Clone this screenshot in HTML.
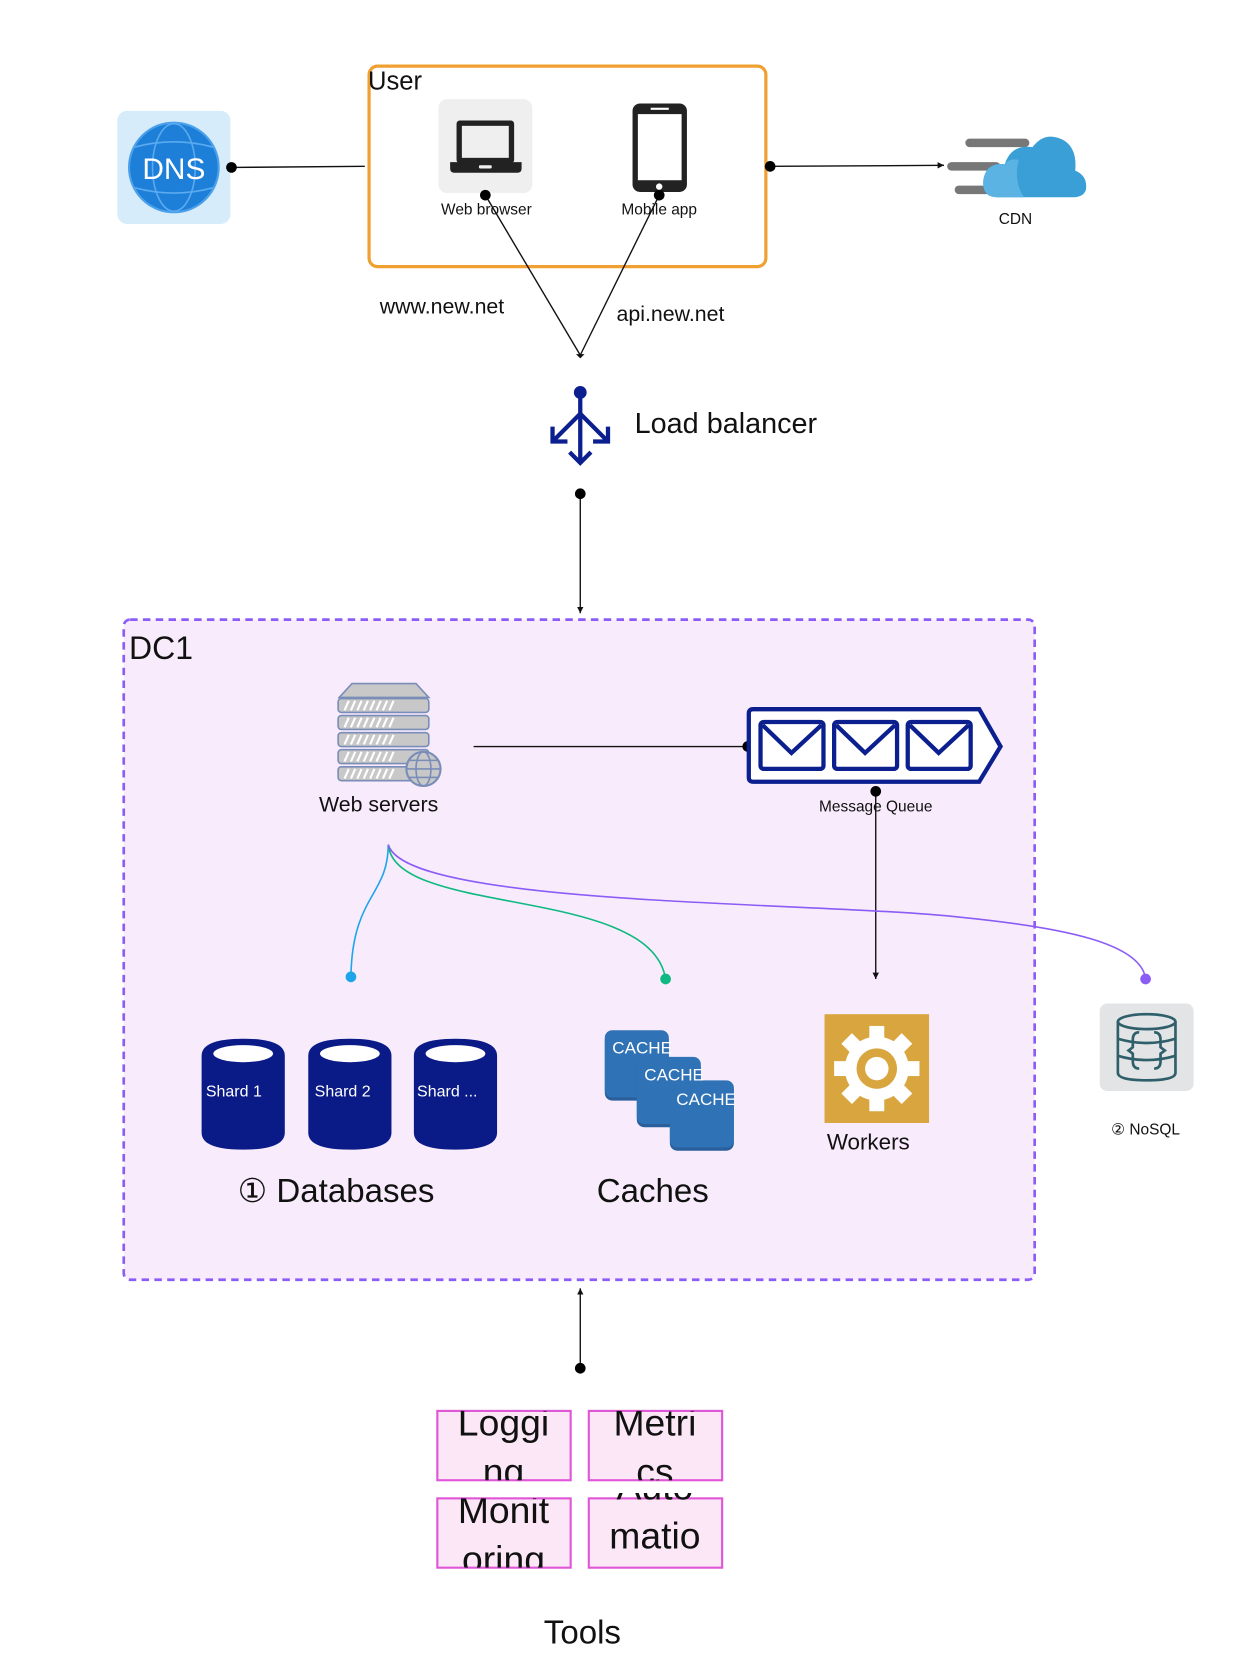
<!DOCTYPE html>
<html><head><meta charset="utf-8"><style>
html,body{margin:0;padding:0;background:#fff;}
svg{display:block;}
text{font-family:"Liberation Sans",sans-serif;fill:#111;}
</style></head><body>
<svg width="1248" height="1669" viewBox="0 0 1170 1565" preserveAspectRatio="none" xmlns="http://www.w3.org/2000/svg">
<defs>
<marker id="ar" markerWidth="8" markerHeight="8" refX="6" refY="4" orient="auto" markerUnits="userSpaceOnUse"><path d="M0,1 L6,4 L0,7 Z" fill="#111"/></marker>
<clipPath id="c1"><rect x="410" y="1323" width="125" height="65"/></clipPath>
<clipPath id="c2"><rect x="552" y="1323" width="125" height="65"/></clipPath>
<clipPath id="c3"><rect x="410" y="1405" width="125" height="65"/></clipPath>
<clipPath id="c4"><rect x="552" y="1400" width="125" height="70"/></clipPath>
</defs>

<!-- DNS -->
<rect x="110" y="104" width="106" height="106" rx="9" fill="#d6ecfb"/>
<circle cx="163" cy="157" r="42" fill="#1e7fd8" stroke="#4aa0ea" stroke-width="2"/>
<ellipse cx="163" cy="157" rx="20" ry="41" fill="none" stroke="#5aaaf0" stroke-width="1.5"/>
<path d="M126,138 Q163,128 200,138 M126,176 Q163,186 200,176" fill="none" stroke="#5aaaf0" stroke-width="1.5"/>
<text x="163" y="168" font-size="28" text-anchor="middle" style="fill:#fff">DNS</text>
<line x1="217" y1="157" x2="342" y2="156" stroke="#111" stroke-width="1.3"/>
<circle cx="217" cy="157" r="5" fill="#000"/>

<!-- User -->
<rect x="346" y="62" width="372" height="188" rx="8" fill="#fff" stroke="#f0a030" stroke-width="3"/>
<text x="345" y="84" font-size="24">User</text>
<rect x="411" y="93" width="88" height="88" rx="8" fill="#efefef"/>
<rect x="428" y="113" width="54" height="40" rx="3" fill="#222"/>
<rect x="433" y="118" width="44" height="30" fill="#efefef"/>
<path d="M422,152 H489 V158 Q489,162 485,162 H426 Q422,162 422,158 Z" fill="#222"/>
<rect x="449" y="155" width="12" height="3" rx="1" fill="#efefef"/>
<rect x="593" y="97" width="51" height="83" rx="7" fill="#222"/>
<rect x="598" y="107" width="41" height="62" fill="#fff"/>
<rect x="610" y="101" width="17" height="2" fill="#fff"/>
<circle cx="618" cy="175" r="3" fill="#fff"/>
<text x="456" y="201" font-size="14.5" text-anchor="middle">Web browser</text>
<text x="618" y="201" font-size="14.5" text-anchor="middle">Mobile app</text>
<line x1="455" y1="183" x2="544" y2="333" stroke="#111" stroke-width="1.3"/>
<line x1="618" y1="183" x2="544" y2="333" stroke="#111" stroke-width="1.3"/>
<circle cx="455" cy="183" r="5" fill="#000"/>
<circle cx="618" cy="183" r="5" fill="#000"/>
<path d="M540,332 L548,332 L544,336 Z" fill="#111"/>
<text x="356" y="294" font-size="20">www.new.net</text>
<text x="578" y="301" font-size="20">api.new.net</text>

<!-- CDN -->
<line x1="722" y1="156" x2="885" y2="155" stroke="#111" stroke-width="1.3" marker-end="url(#ar)"/>
<circle cx="722" cy="156" r="5" fill="#000"/>
<rect x="905" y="130" width="60" height="8" rx="4" fill="#777"/>
<rect x="888" y="152" width="50" height="8" rx="4" fill="#777"/>
<rect x="895" y="174" width="45" height="8" rx="4" fill="#777"/>
<path d="M935,185 Q920,185 922,168 Q925,152 942,154 Q948,135 968,138 Q980,122 998,132 Q1010,140 1008,160 Q1020,165 1018,178 Q1016,185 1005,185 Z" fill="#3a9fd6"/>
<path d="M935,185 Q920,185 922,168 Q925,152 942,154 Q946,148 955,150 Q950,170 960,185 Z" fill="#5bb3e3"/>
<text x="952" y="210" font-size="14.5" text-anchor="middle">CDN</text>

<!-- Load balancer -->
<line x1="544" y1="368" x2="544" y2="433" stroke="#0b1f8f" stroke-width="4"/>
<circle cx="544" cy="368" r="6" fill="#0b1f8f"/>
<path d="M544,388 L520,412 M544,388 L568,412" stroke="#0b1f8f" stroke-width="4" fill="none"/>
<path d="M518,400 V414 H532 M570,400 V414 H556 M534,424 L544,434 L554,424" stroke="#0b1f8f" stroke-width="4" fill="none"/>
<text x="595" y="406" font-size="27">Load balancer</text>
<line x1="544" y1="463" x2="544" y2="575" stroke="#111" stroke-width="1.3" marker-end="url(#ar)"/>
<circle cx="544" cy="463" r="5" fill="#000"/>

<!-- DC1 -->
<rect x="116" y="581" width="854" height="619" rx="6" fill="#f8ecfc" stroke="#8b5cf6" stroke-width="2.5" stroke-dasharray="7,5"/>
<text x="121" y="618" font-size="30">DC1</text>

<!-- web servers -->
<path d="M318,654 L330,641 H390 L402,654 Z" fill="#c8c8c8" stroke="#7a8db8" stroke-width="1.5"/>
<g fill="#c8c8c8" stroke="#7a8db8" stroke-width="1.5">
<rect x="317" y="655" width="85" height="13" rx="3"/>
<rect x="317" y="671" width="85" height="13" rx="3"/>
<rect x="317" y="687" width="85" height="13" rx="3"/>
<rect x="317" y="703" width="85" height="13" rx="3"/>
<rect x="317" y="719" width="85" height="13" rx="3"/>
</g>
<g stroke="#fff" stroke-width="2">
<path d="M323,666 l4,-9 M329,666 l4,-9 M335,666 l4,-9 M341,666 l4,-9 M347,666 l4,-9 M353,666 l4,-9 M359,666 l4,-9 M365,666 l4,-9"/>
<path d="M323,682 l4,-9 M329,682 l4,-9 M335,682 l4,-9 M341,682 l4,-9 M347,682 l4,-9 M353,682 l4,-9 M359,682 l4,-9 M365,682 l4,-9"/>
<path d="M323,698 l4,-9 M329,698 l4,-9 M335,698 l4,-9 M341,698 l4,-9 M347,698 l4,-9 M353,698 l4,-9 M359,698 l4,-9 M365,698 l4,-9"/>
<path d="M323,714 l4,-9 M329,714 l4,-9 M335,714 l4,-9 M341,714 l4,-9 M347,714 l4,-9 M353,714 l4,-9 M359,714 l4,-9 M365,714 l4,-9"/>
<path d="M323,730 l4,-9 M329,730 l4,-9 M335,730 l4,-9 M341,730 l4,-9 M347,730 l4,-9 M353,730 l4,-9 M359,730 l4,-9 M365,730 l4,-9"/>
</g>
<circle cx="397" cy="721" r="16" fill="#c8c8c8" stroke="#7a8db8" stroke-width="2"/>
<ellipse cx="397" cy="721" rx="7" ry="16" fill="none" stroke="#7a8db8" stroke-width="1.5"/>
<path d="M381,721 H413 M384,713 H410 M384,729 H410" stroke="#7a8db8" stroke-width="1.5"/>
<text x="355" y="761" font-size="20" text-anchor="middle">Web servers</text>

<!-- MQ -->
<line x1="444" y1="700" x2="700" y2="700" stroke="#111" stroke-width="1.3"/>
<circle cx="701" cy="700" r="5" fill="#000"/>
<path d="M706,665 H918 L938,700 L918,733 H706 Q702,733 702,729 V669 Q702,665 706,665 Z" fill="#fff" stroke="#0b1f8f" stroke-width="4"/>
<g fill="#fff" stroke="#0b1f8f" stroke-width="4">
<rect x="713" y="677" width="59" height="44" rx="3"/>
<rect x="782" y="677" width="59" height="44" rx="3"/>
<rect x="851" y="677" width="59" height="44" rx="3"/>
</g>
<path d="M715,680 L742,706 L770,680 M784,680 L811,706 L839,680 M853,680 L880,706 L908,680" fill="none" stroke="#0b1f8f" stroke-width="4"/>
<text x="821" y="761" font-size="14.5" text-anchor="middle">Message Queue</text>
<line x1="821" y1="742" x2="821" y2="918" stroke="#111" stroke-width="1.3" marker-end="url(#ar)"/>
<circle cx="821" cy="742" r="5" fill="#000"/>

<!-- curves -->
<path d="M364,792 C364,840 330,840 329,916" fill="none" stroke="#1ea5e9" stroke-width="1.5"/>
<path d="M364,792 C370,860 610,830 624,918" fill="none" stroke="#10b981" stroke-width="1.5"/>
<path d="M364,792 C380,850 760,845 900,860 C1000,870 1070,885 1074,918" fill="none" stroke="#8b5cf6" stroke-width="1.5"/>
<circle cx="329" cy="916" r="5" fill="#1ea5e9"/>
<circle cx="624" cy="918" r="5" fill="#10b981"/>
<circle cx="1074" cy="918" r="5" fill="#8b5cf6"/>

<!-- DBs -->
<g fill="#0a1a87">
<path d="M189,990 Q189,974 228,974 Q267,974 267,990 V1062 Q267,1078 228,1078 Q189,1078 189,1062 Z"/>
<path d="M289,990 Q289,974 328,974 Q367,974 367,990 V1062 Q367,1078 328,1078 Q289,1078 289,1062 Z"/>
<path d="M388,990 Q388,974 427,974 Q466,974 466,990 V1062 Q466,1078 427,1078 Q388,1078 388,1062 Z"/>
</g>
<ellipse cx="228" cy="988" rx="28" ry="8" fill="#fff"/>
<ellipse cx="328" cy="988" rx="28" ry="8" fill="#fff"/>
<ellipse cx="427" cy="988" rx="28" ry="8" fill="#fff"/>
<text x="193" y="1028" font-size="15" style="fill:#fff">Shard 1</text>
<text x="295" y="1028" font-size="15" style="fill:#fff">Shard 2</text>
<text x="391" y="1028" font-size="15" style="fill:#fff">Shard ...</text>
<text x="315" y="1127" font-size="31" text-anchor="middle">① Databases</text>

<!-- caches -->
<rect x="567" y="968" width="60" height="64" rx="7" fill="#2a5f9c"/>
<rect x="567" y="966" width="60" height="63" rx="7" fill="#2f72b6"/>
<rect x="597" y="993" width="60" height="64" rx="7" fill="#2a5f9c"/>
<rect x="597" y="991" width="60" height="63" rx="7" fill="#2f72b6"/>
<rect x="628" y="1015" width="60" height="64" rx="7" fill="#2a5f9c"/>
<rect x="628" y="1013" width="60" height="63" rx="7" fill="#2f72b6"/>
<text x="574" y="988" font-size="16" style="fill:#fff">CACHE</text>
<text x="604" y="1013" font-size="16" style="fill:#fff">CACHE</text>
<text x="634" y="1036" font-size="16" style="fill:#fff">CACHE</text>
<text x="612" y="1127" font-size="31" text-anchor="middle">Caches</text>

<!-- workers -->
<rect x="773" y="951" width="98" height="102" fill="#d9a53f"/>
<g transform="translate(822,1002)">
<circle r="30" fill="#fff"/>
<g fill="#fff">
<rect x="-7" y="-40" width="14" height="80"/>
<rect x="-40" y="-7" width="80" height="14"/>
<rect x="-7" y="-40" width="14" height="80" transform="rotate(45)"/>
<rect x="-7" y="-40" width="14" height="80" transform="rotate(-45)"/>
</g>
<circle r="19" fill="#d9a53f"/>
<circle r="11" fill="#fff"/>
</g>
<text x="814" y="1078" font-size="21" text-anchor="middle">Workers</text>

<!-- NoSQL -->
<rect x="1031" y="941" width="88" height="82" rx="7" fill="#e2e4e6"/>
<g fill="none" stroke="#2f5f6a" stroke-width="2.5">
<ellipse cx="1075" cy="958" rx="27" ry="7"/>
<path d="M1048,958 V1006 Q1048,1013 1075,1013 Q1102,1013 1102,1006 V958"/>
<path d="M1048,974 Q1075,982 1102,974 M1048,990 Q1075,998 1102,990"/>
<path d="M1068,968 Q1062,968 1062,975 V982 L1058,985 L1062,988 V995 Q1062,1002 1068,1002 M1082,968 Q1088,968 1088,975 V982 L1092,985 L1088,988 V995 Q1088,1002 1082,1002"/>
</g>
<text x="1074" y="1064" font-size="14.5" text-anchor="middle">② NoSQL</text>

<!-- tools link -->
<line x1="544" y1="1283" x2="544" y2="1208" stroke="#111" stroke-width="1.3" marker-end="url(#ar)"/>
<circle cx="544" cy="1283" r="5" fill="#000"/>

<!-- tools -->
<g fill="#fce7f6" stroke="#e056d8" stroke-width="2">
<rect x="410" y="1323" width="125" height="65"/>
<rect x="552" y="1323" width="125" height="65"/>
<rect x="410" y="1405" width="125" height="65"/>
<rect x="552" y="1405" width="125" height="65"/>
</g>
<g font-size="35" text-anchor="middle">
<g clip-path="url(#c1)"><text x="472" y="1346">Loggi</text><text x="472" y="1392">ng</text></g>
<g clip-path="url(#c2)"><text x="614" y="1346">Metri</text><text x="614" y="1392">cs</text></g>
<g clip-path="url(#c3)"><text x="472" y="1428">Monit</text><text x="472" y="1474">oring</text></g>
<g clip-path="url(#c4)"><text x="614" y="1406">Auto</text><text x="614" y="1452">matio</text></g>
</g>
<text x="546" y="1541" font-size="31" text-anchor="middle">Tools</text>
</svg>
</body></html>
